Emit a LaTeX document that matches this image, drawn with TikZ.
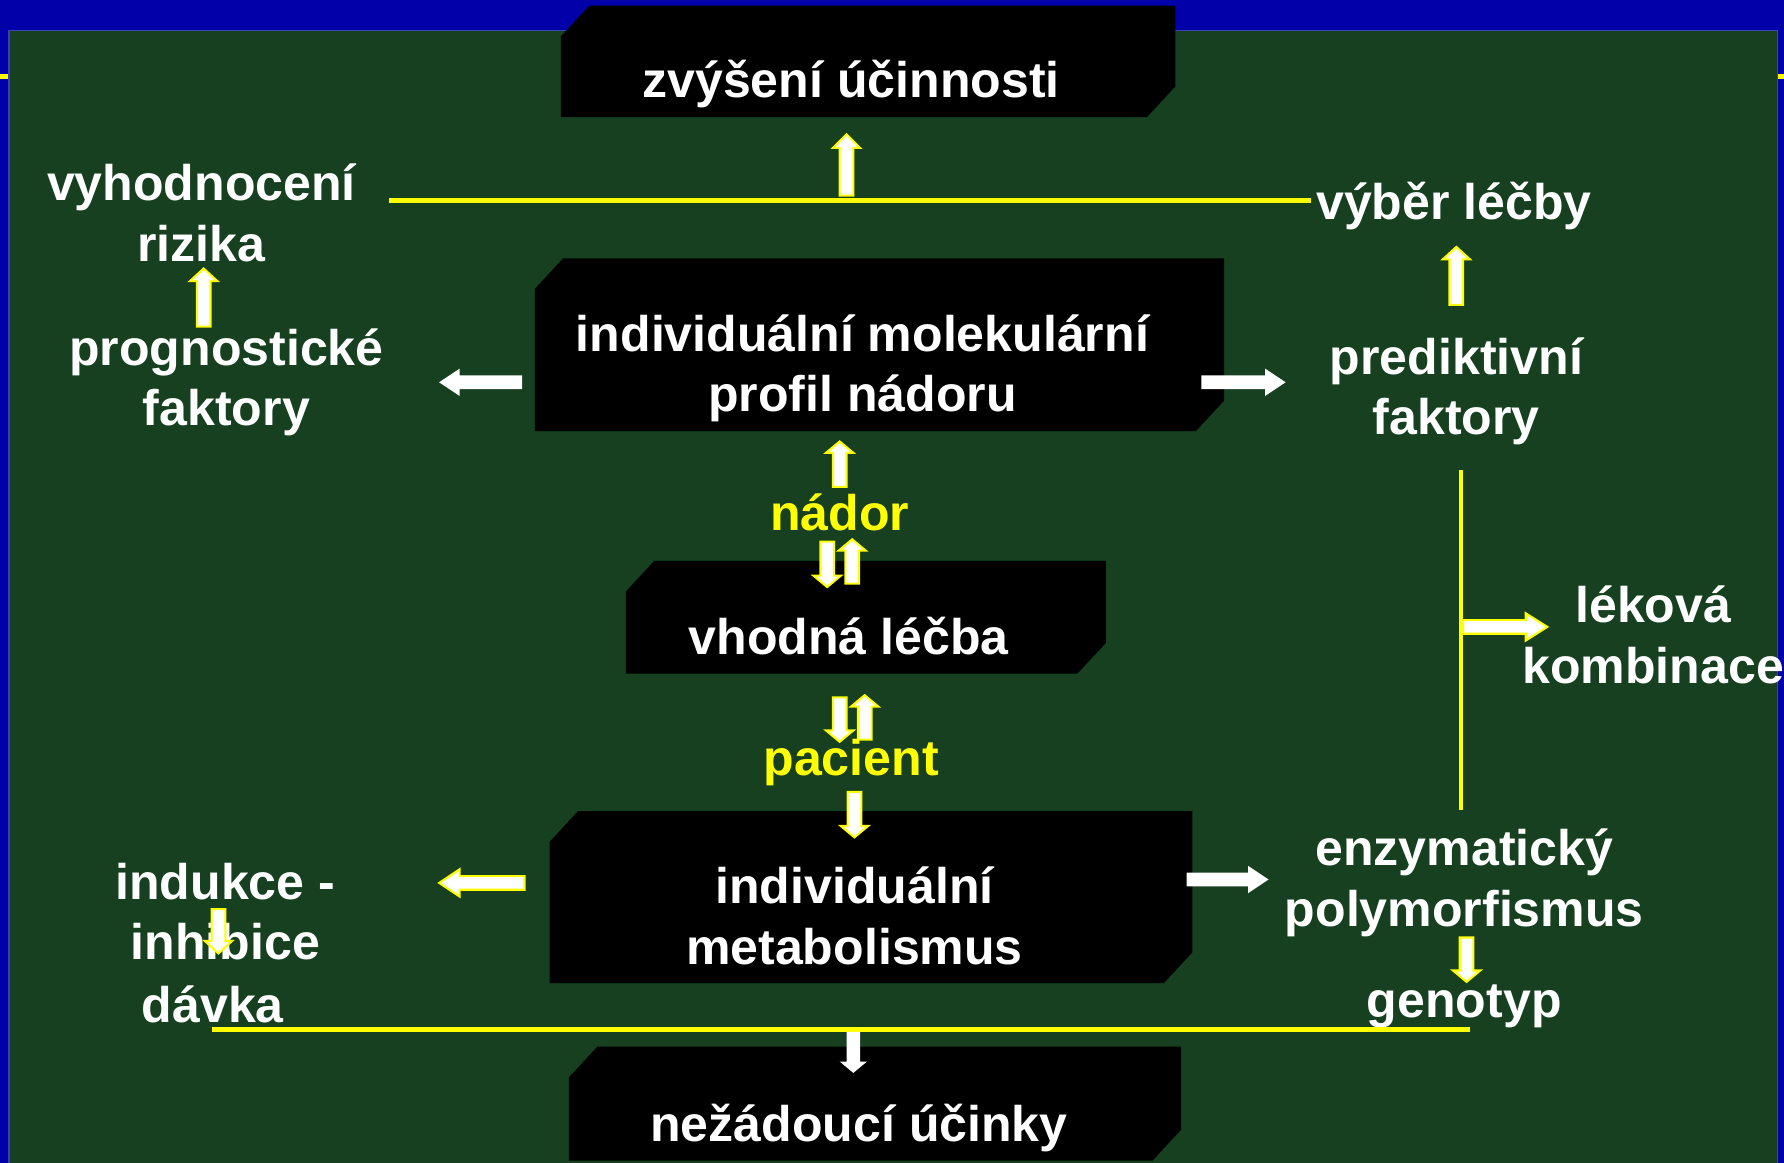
\documentclass[tikz,border=0pt]{standalone}
\usepackage{fontspec}
\setmainfont{Liberation Sans}
\definecolor{slideblue}{RGB}{2,0,168}
\definecolor{panelgreen}{RGB}{22,64,32}
\definecolor{panelrim}{RGB}{58,64,182}
\definecolor{lineyellow}{RGB}{255,255,0}

% black box with the top-left and bottom-right corners cut off
\newcommand\chambox[4]{%
  \fill[black] (#1,#2+27) -- (#1+25,#2) -- (#3,#2) -- (#3,#4-27) -- (#3-25,#4) -- (#1,#4) -- cycle;}

% block arrow: [style]{tail x}{tail y}{direction}{length}{head length}
\newcommand\barrow[6][plainarr]{%
  \begin{scope}[shift={(#2,#3)},rotate=#4]
    \filldraw[#1] (0,-6) -- (#5-#6,-6) -- (#5-#6,-12) -- (#5,0) -- (#5-#6,12) -- (#5-#6,6) -- (0,6) -- cycle;
  \end{scope}}

\begin{document}
\begin{tikzpicture}[x=0.5pt,y=-0.5pt,
  lbl/.style={text=white, font=\bfseries\fontsize{22}{26.5}\selectfont, align=center, inner sep=0pt},
  ylbl/.style={lbl, text=lineyellow},
  yline/.style={draw=lineyellow, line width=2pt},
  plainarr/.style={fill=white, draw=none},
  yarr/.style={fill=white, draw=lineyellow, line width=0.9pt, line join=miter},
]
\useasboundingbox (0,0) rectangle (1568,1022);
% slide background
\fill[slideblue] (0,0) rectangle (1568,1022);
\draw[yline] (0,67) -- (1568,67);
\filldraw[fill=panelgreen, draw=panelrim, line width=0.6pt] (8,27) rectangle (1562,1040);

% boxes
\chambox{493}{5}{1033}{103}
\chambox{470}{227}{1076}{379}
\chambox{550}{493}{972}{592}
\chambox{483}{713}{1048}{864}
\chambox{500}{920}{1038}{1020}

% texts
\node[lbl] (zvys) at (748,74) {zvýšení účinnosti};
\node[lbl] (riz) at (177,187) {vyhodnocení\\rizika};
\node[lbl] (prog) at (199,336) {prognostické\\faktory};
\node[lbl] (prof) at (758,324) {individuální molekulární\\profil nádoru};
\node[lbl] (vyber) at (1278,181) {výběr léčby};
\node[lbl] (pred) at (1280,344) {prediktivní\\faktory};
\node[ylbl] (nador) at (738,450) {nádor};
\node[lbl] (vhod) at (746,559) {vhodná léčba};
\node[lbl] (lek) at (1453,558) {léková\\kombinace};
\node[ylbl] (pac) at (748,670) {pacient};
\node[lbl] (ind) at (198,801) {indukce -\\inhibice};
\node[lbl] (davka) at (187,883) {dávka};
\node[lbl] (metab) at (751,805) {individuální\\metabolismus};
\node[lbl] (enz) at (1287,776) {enzymatický\\polymorfismus};
\node[lbl] (geno) at (1287,885) {genotyp};
\node[lbl] (nez) at (755,991) {nežádoucí účinky};

% connecting lines
\coordinate (tl) at (342,176);
\coordinate (tr) at (1152,176);
\coordinate (vt) at (1284,413);
\coordinate (vb) at (1284,712);
\coordinate (bl) at (186,905);
\coordinate (br) at (1292,905);
\draw[yline] (tl) -- (tr);
\draw[yline] (vt) -- (vb);
\draw[yline] (bl) -- (br);

% arrows
\barrow[yarr]{744}{172}{90}{54}{12}
\barrow[yarr]{179}{287}{90}{51}{11}
\barrow{459}{336}{180}{73}{18}
\barrow{1056}{336}{0}{74}{18}
\barrow[yarr]{1280}{268}{90}{51}{11}
\barrow[yarr]{1286}{551}{0}{74}{19}
\barrow[yarr]{738}{428}{90}{40}{10}
\barrow[yarr]{727}{476}{-90}{40}{10}
\barrow[yarr]{749}{513}{90}{39}{10}
\barrow[yarr]{738}{613}{-90}{39}{10}
\barrow[yarr]{760}{650}{90}{39}{10}
\barrow[yarr]{751}{696}{-90}{40}{10}
\barrow[yarr]{461}{776}{180}{75}{18}
\barrow[yarr]{192}{799}{-90}{39}{11}
\barrow{1043}{773}{0}{72}{18}
\barrow[yarr]{1289}{824}{-90}{39}{10}
\barrow{750}{907}{-90}{36}{10}
\end{tikzpicture}
\end{document}
